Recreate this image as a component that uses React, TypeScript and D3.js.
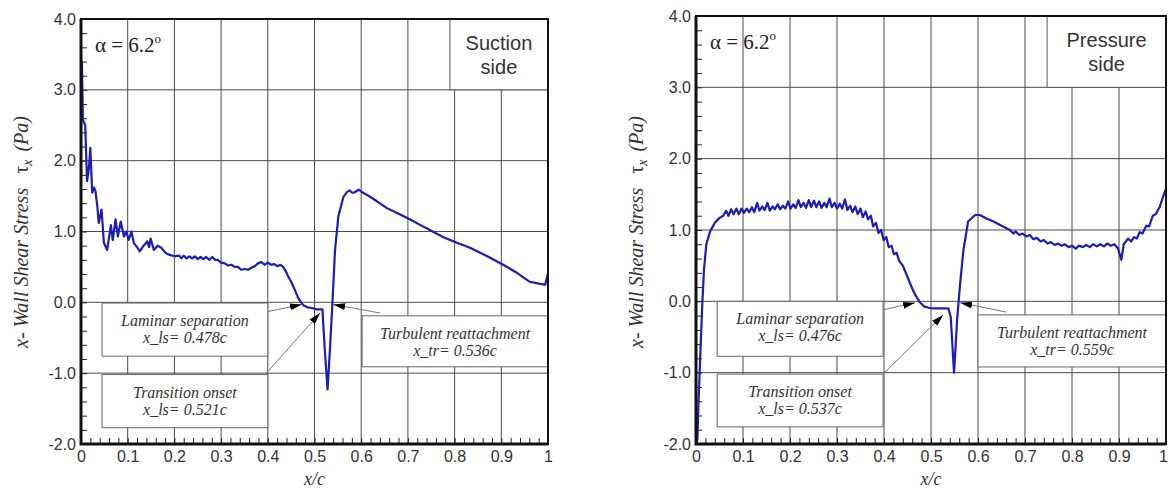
import React, { useEffect, useRef } from 'react';
import * as d3 from 'd3';

// axis ticks
const xTicks = [0, 0.1, 0.2, 0.3, 0.4, 0.5, 0.6, 0.7, 0.8, 0.9, 1];
const xTickLabels = ['0', '0.1', '0.2', '0.3', '0.4', '0.5', '0.6', '0.7', '0.8', '0.9', '1'];
const yTicks = [-2, -1, 0, 1, 2, 3, 4];
const yTickLabels = ['-2.0', '-1.0', '0.0', '1.0', '2.0', '3.0', '4.0'];

// suction side wall shear stress [x/c, tau_x]
const suction = [
  [0, 3.42], [0.002, 3.38], [0.004, 2.58], [0.009, 2.5], [0.013, 1.71], [0.017, 1.9],
  [0.02, 2.18], [0.024, 1.55], [0.028, 1.62], [0.031, 1.57], [0.035, 1.35], [0.038, 1.12],
  [0.044, 1.31], [0.049, 0.84], [0.056, 0.74], [0.064, 1.09], [0.068, 0.88], [0.074, 1.17],
  [0.079, 0.93], [0.085, 1.14], [0.092, 0.93], [0.097, 1.0], [0.102, 0.88], [0.108, 1.0],
  [0.113, 0.84], [0.12, 0.78], [0.126, 0.72], [0.134, 0.8], [0.142, 0.86], [0.146, 0.78],
  [0.149, 0.9], [0.156, 0.74], [0.164, 0.8], [0.172, 0.77], [0.178, 0.72], [0.183, 0.69],
  [0.19, 0.67], [0.2, 0.65], [0.21, 0.66], [0.215, 0.62], [0.22, 0.66], [0.226, 0.62],
  [0.232, 0.65], [0.238, 0.62], [0.244, 0.65], [0.25, 0.61], [0.256, 0.64], [0.262, 0.61],
  [0.268, 0.64], [0.275, 0.6], [0.281, 0.64], [0.287, 0.6], [0.293, 0.6], [0.3, 0.56],
  [0.308, 0.55], [0.315, 0.52], [0.322, 0.53], [0.329, 0.5], [0.336, 0.5], [0.343, 0.46],
  [0.351, 0.47], [0.358, 0.46], [0.365, 0.49], [0.372, 0.51], [0.379, 0.55], [0.386, 0.57],
  [0.393, 0.53], [0.4, 0.56], [0.407, 0.53], [0.414, 0.54], [0.42, 0.51], [0.427, 0.53],
  [0.433, 0.5], [0.44, 0.42], [0.444, 0.36], [0.45, 0.29], [0.455, 0.22], [0.46, 0.14],
  [0.465, 0.06], [0.47, 0.01], [0.476, -0.04], [0.485, -0.07], [0.494, -0.08], [0.505, -0.1],
  [0.517, -0.1], [0.522, -0.67], [0.528, -1.23], [0.533, -0.67], [0.538, -0.06], [0.544, 0.74],
  [0.551, 1.21], [0.562, 1.49], [0.57, 1.56], [0.575, 1.58], [0.58, 1.55], [0.585, 1.55],
  [0.595, 1.59], [0.603, 1.55], [0.612, 1.52], [0.633, 1.43], [0.655, 1.33], [0.68, 1.25],
  [0.705, 1.17], [0.727, 1.09], [0.747, 1.02], [0.776, 0.92], [0.805, 0.84], [0.833, 0.77],
  [0.87, 0.65], [0.904, 0.53], [0.935, 0.41], [0.961, 0.29], [0.983, 0.26], [0.994, 0.25],
  [1.0, 0.41],
];

// pressure side wall shear stress [x/c, tau_x]
const pressure = [
  [0, -2.0], [0.003, -1.94], [0.005, -1.48], [0.009, -0.78], [0.013, -0.1], [0.017, 0.45],
  [0.022, 0.8], [0.03, 0.98], [0.04, 1.1], [0.05, 1.17], [0.058, 1.2], [0.064, 1.27],
  [0.069, 1.2], [0.075, 1.29], [0.08, 1.22], [0.086, 1.3], [0.091, 1.22], [0.097, 1.3],
  [0.102, 1.24], [0.108, 1.3], [0.113, 1.25], [0.119, 1.32], [0.124, 1.25], [0.13, 1.38],
  [0.135, 1.27], [0.141, 1.33], [0.146, 1.28], [0.152, 1.38], [0.157, 1.27], [0.163, 1.33],
  [0.168, 1.29], [0.174, 1.36], [0.179, 1.29], [0.185, 1.34], [0.19, 1.3], [0.196, 1.4],
  [0.201, 1.3], [0.207, 1.36], [0.212, 1.31], [0.218, 1.42], [0.223, 1.32], [0.229, 1.38],
  [0.234, 1.31], [0.24, 1.42], [0.245, 1.32], [0.251, 1.41], [0.256, 1.32], [0.262, 1.4],
  [0.267, 1.31], [0.273, 1.38], [0.278, 1.32], [0.284, 1.44], [0.289, 1.32], [0.295, 1.38],
  [0.3, 1.3], [0.306, 1.37], [0.311, 1.3], [0.317, 1.43], [0.322, 1.28], [0.328, 1.34],
  [0.333, 1.25], [0.339, 1.33], [0.344, 1.22], [0.35, 1.3], [0.355, 1.18], [0.361, 1.26],
  [0.366, 1.15], [0.372, 1.2], [0.377, 1.05], [0.383, 1.1], [0.388, 0.96], [0.394, 1.0],
  [0.399, 0.86], [0.405, 0.9], [0.41, 0.76], [0.416, 0.78], [0.421, 0.66], [0.427, 0.68],
  [0.432, 0.57], [0.44, 0.5], [0.447, 0.39], [0.455, 0.26], [0.462, 0.15], [0.47, 0.05],
  [0.476, -0.01], [0.485, -0.07], [0.495, -0.09], [0.505, -0.1], [0.52, -0.1], [0.537, -0.1],
  [0.542, -0.22], [0.549, -1.0], [0.556, -0.22], [0.562, 0.25], [0.569, 0.72], [0.579, 1.12],
  [0.594, 1.21], [0.604, 1.21], [0.618, 1.16], [0.633, 1.12], [0.65, 1.06], [0.668, 1.0],
  [0.675, 0.95], [0.68, 0.98], [0.688, 0.93], [0.695, 0.95], [0.703, 0.91], [0.71, 0.93],
  [0.718, 0.87], [0.725, 0.89], [0.733, 0.84], [0.74, 0.86], [0.748, 0.81], [0.755, 0.83],
  [0.763, 0.79], [0.77, 0.81], [0.778, 0.78], [0.785, 0.8], [0.793, 0.76], [0.8, 0.78],
  [0.808, 0.74], [0.815, 0.78], [0.823, 0.76], [0.83, 0.79], [0.838, 0.76], [0.845, 0.8],
  [0.853, 0.77], [0.86, 0.8], [0.868, 0.77], [0.875, 0.81], [0.883, 0.78], [0.89, 0.8],
  [0.898, 0.74], [0.905, 0.58], [0.91, 0.8], [0.919, 0.88], [0.926, 0.84], [0.932, 0.9],
  [0.938, 0.88], [0.944, 0.97], [0.95, 0.95], [0.958, 1.06], [0.964, 1.05], [0.972, 1.2],
  [0.978, 1.22], [0.987, 1.33], [0.994, 1.47], [1.0, 1.58],
];

const angleLabel = 'α = 6.2';
const suctionSide = ['Suction', 'side'];
const pressureSide = ['Pressure', 'side'];
const suctionNotes = [
  ['Laminar separation', 'x_ls= 0.478c'],
  ['Transition onset', 'x_ls= 0.521c'],
  ['Turbulent reattachment', 'x_tr= 0.536c'],
];
const pressureNotes = [
  ['Laminar separation', 'x_ls= 0.476c'],
  ['Transition onset', 'x_ls= 0.537c'],
  ['Turbulent reattachment', 'x_tr= 0.559c'],
];

const SANS = "'Liberation Sans', Arial, sans-serif";
const SERIF = "'Liberation Serif', 'Times New Roman', serif";

export default function App() {
  const ref = useRef(null);

  useEffect(() => {
    const svg = d3.select(ref.current);
    svg.selectAll('*').remove();

    svg
      .append('defs')
      .append('marker')
      .attr('id', 'arrowhead')
      .attr('viewBox', '0 -4 12 8')
      .attr('refX', 12)
      .attr('refY', 0)
      .attr('markerWidth', 12)
      .attr('markerHeight', 8)
      .attr('markerUnits', 'userSpaceOnUse')
      .attr('orient', 'auto')
      .append('path')
      .attr('d', 'M0,-3.5L12,0L0,3.5Z')
      .attr('fill', '#000');

    drawPanel(svg, {
      id: 'suction',
      xRange: [81, 548],
      yRange: [444, 19],
      data: suction,
      side: suctionSide,
      sideBoxX: 0.79,
      notes: suctionNotes,
      lastLabelShift: 0,
      // note boxes: [x0, x1, y0, y1] and arrows: [tail, tip] in data units
      boxes: [
        [0.045, 0.4, -0.01, -0.76],
        [0.045, 0.4, -1.02, -1.77],
        [0.602, 1.0, -0.19, -0.91],
      ],
      arrows: [
        [[0.4, -0.13], [0.473, -0.03]],
        [[0.394, -1.02], [0.512, -0.15]],
        [[0.64, -0.15], [0.54, -0.03]],
      ],
    });

    drawPanel(svg, {
      id: 'pressure',
      xRange: [696, 1166],
      yRange: [444, 16],
      data: pressure,
      side: pressureSide,
      sideBoxX: 0.747,
      notes: pressureNotes,
      lastLabelShift: -3,
      boxes: [
        [0.045, 0.398, 0.0, -0.77],
        [0.045, 0.398, -1.02, -1.76],
        [0.6, 1.0, -0.19, -0.92],
      ],
      arrows: [
        [[0.398, -0.12], [0.466, -0.02]],
        [[0.398, -1.02], [0.526, -0.19]],
        [[0.66, -0.15], [0.562, -0.02]],
      ],
    });
  });

  function drawPanel(svg, { id, xRange, yRange, data, side, sideBoxX, notes, lastLabelShift, boxes, arrows }) {
    const x = d3.scaleLinear([0, 1], xRange);
    const y = d3.scaleLinear([-2, 4], yRange);
    const [left, right] = xRange;
    const [bottom, top] = yRange;
    const g = svg.append('g');

    // grid
    g.append('g')
      .selectAll('line')
      .data(xTicks.slice(1, -1))
      .join('line')
      .attr('x1', (d) => x(d))
      .attr('x2', (d) => x(d))
      .attr('y1', top)
      .attr('y2', bottom)
      .attr('stroke', '#4a4a4a')
      .attr('stroke-width', 1);
    g.append('g')
      .selectAll('line')
      .data(yTicks.slice(1, -1))
      .join('line')
      .attr('x1', left)
      .attr('x2', right)
      .attr('y1', (d) => y(d))
      .attr('y2', (d) => y(d))
      .attr('stroke', '#4a4a4a')
      .attr('stroke-width', 1);

    // minor ticks
    g.append('g')
      .attr('transform', `translate(${left},0)`)
      .call(d3.axisLeft(y).tickValues(d3.range(-2, 4.001, 0.2)).tickSize(-6).tickFormat(() => ''))
      .call((a) => a.select('.domain').remove())
      .call((a) => a.selectAll('.tick line').attr('stroke', '#222'));
    g.append('g')
      .attr('transform', `translate(0,${bottom})`)
      .call(d3.axisBottom(x).tickValues(d3.range(0, 1.0001, 0.02)).tickSize(-6).tickFormat(() => ''))
      .call((a) => a.select('.domain').remove())
      .call((a) => a.selectAll('.tick line').attr('stroke', '#222'));

    // tick labels
    g.append('g')
      .attr('transform', `translate(${left},0)`)
      .call(d3.axisLeft(y).tickValues(yTicks).tickSize(0).tickPadding(5).tickFormat((d, i) => yTickLabels[i]))
      .call((a) => a.select('.domain').remove())
      .call((a) =>
        a.selectAll('text').attr('font-family', SANS).attr('font-size', 16).attr('fill', '#333')
      );
    g.append('g')
      .attr('transform', `translate(0,${bottom})`)
      .call(d3.axisBottom(x).tickValues(xTicks).tickSize(0).tickPadding(7).tickFormat((d, i) => xTickLabels[i]))
      .call((a) => a.select('.domain').remove())
      .call((a) =>
        a
          .selectAll('text')
          .attr('font-family', SANS)
          .attr('font-size', 16)
          .attr('fill', '#333')
          .attr('dx', (d, i) => (i === xTicks.length - 1 ? lastLabelShift : 0))
      );

    // side label box
    g.append('rect')
      .attr('x', x(sideBoxX))
      .attr('y', top)
      .attr('width', right - x(sideBoxX))
      .attr('height', y(3) - top)
      .attr('fill', '#fff')
      .attr('stroke', '#555');
    g.append('g')
      .selectAll('text')
      .data(side)
      .join('text')
      .attr('x', (x(sideBoxX) + right) / 2)
      .attr('y', (d, i) => top + 31 + i * 24)
      .attr('text-anchor', 'middle')
      .attr('font-family', SANS)
      .attr('font-size', 20)
      .attr('fill', '#333')
      .text((d) => d);

    // note boxes
    boxes.forEach(([x0, x1, y0, y1], i) => {
      g.append('rect')
        .attr('x', x(x0))
        .attr('y', y(y0))
        .attr('width', x(x1) - x(x0))
        .attr('height', y(y1) - y(y0))
        .attr('fill', '#fff')
        .attr('stroke', '#666');
      g.append('g')
        .selectAll('text')
        .data(notes[i])
        .join('text')
        .attr('x', (x(x0) + x(x1)) / 2)
        .attr('y', (d, j) => y(y0) + 23 + j * 17)
        .attr('text-anchor', 'middle')
        .attr('font-family', SERIF)
        .attr('font-style', 'italic')
        .attr('font-size', 16)
        .attr('fill', '#333')
        .text((d) => d);
    });

    // curve
    svg
      .append('clipPath')
      .attr('id', `clip-${id}`)
      .append('rect')
      .attr('x', left)
      .attr('y', top)
      .attr('width', right - left)
      .attr('height', bottom - top);
    const line = d3
      .line()
      .x((d) => x(d[0]))
      .y((d) => y(d[1]));
    g.append('path')
      .attr('clip-path', `url(#clip-${id})`)
      .attr('fill', 'none')
      .attr('stroke', '#1c1cb8')
      .attr('stroke-width', 2.2)
      .attr('stroke-linejoin', 'round')
      .attr('d', line(data));

    // arrows
    g.append('g')
      .selectAll('line')
      .data(arrows)
      .join('line')
      .attr('x1', (d) => x(d[0][0]))
      .attr('y1', (d) => y(d[0][1]))
      .attr('x2', (d) => x(d[1][0]))
      .attr('y2', (d) => y(d[1][1]))
      .attr('stroke', '#777')
      .attr('stroke-width', 1)
      .attr('marker-end', 'url(#arrowhead)');

    // frame
    g.append('rect')
      .attr('x', left)
      .attr('y', top)
      .attr('width', right - left)
      .attr('height', bottom - top)
      .attr('fill', 'none')
      .attr('stroke', '#111')
      .attr('stroke-width', 2);
    g.append('path')
      .attr('d', `M${left},${top}V${bottom}H${right}`)
      .attr('fill', 'none')
      .attr('stroke', '#111')
      .attr('stroke-width', 3);

    // angle of attack
    const alpha = g
      .append('text')
      .attr('x', left + 14)
      .attr('y', top + 33)
      .attr('font-family', SERIF)
      .attr('font-size', 21)
      .attr('fill', '#222');
    alpha.append('tspan').text(angleLabel);
    alpha.append('tspan').attr('dy', -9).attr('font-size', 13).text('o');

    // axis titles
    const yl = g
      .append('text')
      .attr('transform', `translate(${left - 53},232) rotate(-90)`)
      .attr('text-anchor', 'middle')
      .attr('font-family', SERIF)
      .attr('font-size', 20)
      .attr('fill', '#333');
    yl.append('tspan').attr('font-style', 'italic').text('x- Wall Shear Stress');
    yl.append('tspan').attr('dx', 14).text('τ');
    yl.append('tspan').attr('dy', 4).attr('font-size', 14).attr('font-style', 'italic').text('x');
    yl.append('tspan').attr('dy', -4).attr('dx', 8).attr('font-style', 'italic').text('(Pa)');

    g.append('text')
      .attr('x', x(0.5))
      .attr('y', 485)
      .attr('text-anchor', 'middle')
      .attr('font-family', SERIF)
      .attr('font-style', 'italic')
      .attr('font-size', 18)
      .attr('fill', '#333')
      .text('x/c');
  }

  return (
    <svg
      ref={ref}
      width={1168}
      height={488}
      style={{ position: 'absolute', left: 0, top: 0, background: '#fff' }}
    />
  );
}
